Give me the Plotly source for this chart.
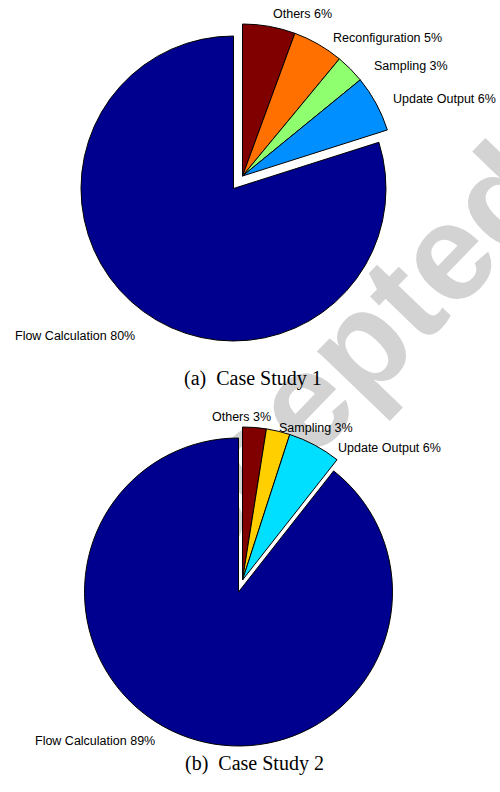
import plotly.graph_objects as go

W, H = 500, 792

# Case Study 1 (clockwise from 12 o'clock)
labels1 = ["Others", "Reconfiguration", "Sampling", "Update Output", "Flow Calculation"]
values1 = [5.6, 5.4, 3.1, 6.0, 79.9]
pct1 = ["6%", "5%", "3%", "6%", "80%"]
colors1 = ["#800000", "#FF7000", "#8FFF70", "#008FFF", "#00008F"]

# Case Study 2
labels2 = ["Others", "Sampling", "Update Output", "Flow Calculation"]
values2 = [2.5, 2.5, 5.6, 89.4]
pct2 = ["3%", "3%", "6%", "89%"]
colors2 = ["#800000", "#FFCF00", "#00DFFF", "#00008F"]

captions = ["(a)\u00a0\u00a0Case Study 1", "(b)\u00a0\u00a0Case Study 2"]

# label anchor positions (pixels from top-left) and horizontal anchor
lab_pos1 = [(271, 14, "left"), (331, 38, "left"), (372, 66, "left"), (391, 99, "left"), (137, 336, "right")]
lab_pos2 = [(210, 417, "left"), (277, 428, "left"), (336, 448, "left"), (157, 741, "right")]

LABEL_FONT = dict(family="Liberation Sans, Arial", size=12.5, color="black")


def dom(cx, cy, r):
    return dict(x=[(cx - r) / W, (cx + r) / W], y=[(H - cy - r) / H, (H - cy + r) / H])


def pie_pair(labels, values, colors, main_c, group_c, r_main, r_group):
    n = len(labels)
    main_idx = n - 1
    clear = "rgba(0,0,0,0)"
    t_main = go.Pie(
        labels=labels, values=values, sort=False, direction="clockwise", rotation=0,
        textinfo="none",
        marker=dict(colors=[colors[i] if i == main_idx else clear for i in range(n)],
                    line=dict(color=["black" if i == main_idx else clear for i in range(n)],
                              width=[1 if i == main_idx else 0 for i in range(n)])),
        domain=dom(main_c[0], main_c[1], r_main), showlegend=False, hoverinfo="label+percent",
    )
    t_group = go.Pie(
        labels=labels, values=values, sort=False, direction="clockwise", rotation=0,
        textinfo="none",
        marker=dict(colors=[clear if i == main_idx else colors[i] for i in range(n)],
                    line=dict(color=[clear if i == main_idx else "black" for i in range(n)],
                              width=[0 if i == main_idx else 1 for i in range(n)])),
        domain=dom(group_c[0], group_c[1], r_group), showlegend=False, hoverinfo="label+percent",
    )
    return [t_main, t_group]


fig = go.Figure()
for t in pie_pair(labels1, values1, colors1, (233.5, 188.5), (242.5, 176), 152.5, 152):
    fig.add_trace(t)
for t in pie_pair(labels2, values2, colors2, (238.5, 592), (242.5, 580), 154, 153):
    fig.add_trace(t)

for labels, pct, pos in ((labels1, pct1, lab_pos1), (labels2, pct2, lab_pos2)):
    for l, p, (x, y, anc) in zip(labels, pct, pos):
        fig.add_annotation(text=f"{l} {p}", x=x / W, y=1 - y / H, xref="paper", yref="paper",
                           xanchor=anc, yanchor="middle", showarrow=False, font=LABEL_FONT)

fig.add_annotation(text=captions[0], x=253 / W, y=1 - 378 / H, xref="paper", yref="paper",
                   showarrow=False, font=dict(family="Liberation Serif, Times New Roman", size=20, color="black"))
fig.add_annotation(text=captions[1], x=254 / W, y=1 - 777 / H, xref="paper", yref="paper",
                   showarrow=False, font=dict(family="Liberation Serif, Times New Roman", size=20, color="black"))

# watermark (drawn beneath the pies)
fig.add_shape(type="line", xref="paper", yref="paper", layer="below",
              x0=98 / W, y0=1 - 596 / H, x1=514 / W, y1=1 - 164 / H,
              line=dict(width=0, color="rgba(0,0,0,0)"),
              label=dict(text="Accepted", textposition="middle", yanchor="middle", padding=0,
                         font=dict(family="Liberation Sans, Arial", size=137, color="#d3d3d3", weight="bold")))

fig.update_layout(width=W, height=H, margin=dict(l=0, r=0, t=0, b=0),
                  paper_bgcolor="white", plot_bgcolor="white", showlegend=False)

fig.write_html("out.html", config={"displayModeBar": False},
               post_script="document.body.style.margin='0px';")
